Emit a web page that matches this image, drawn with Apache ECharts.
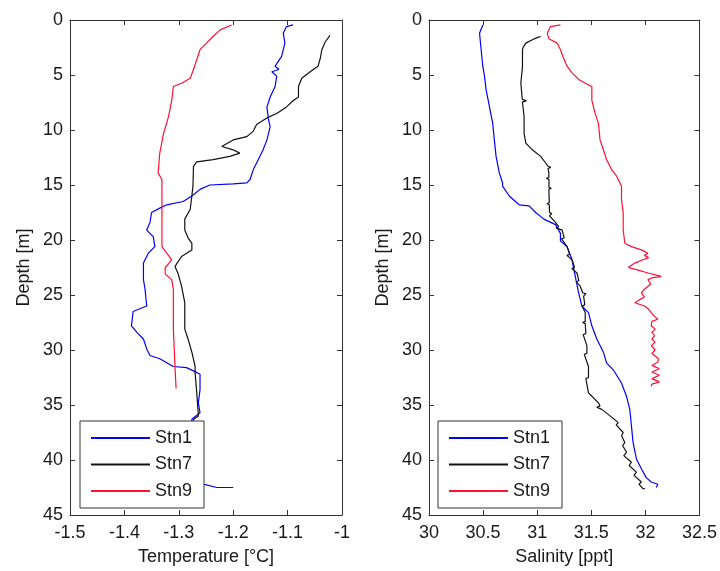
<!DOCTYPE html>
<html>
<head>
<meta charset="utf-8">
<script src="https://cdn.jsdelivr.net/npm/echarts@6/dist/echarts.min.js"></script>
<style>html,body{margin:0;padding:0;background:#fff}#c{width:720px;height:571px}</style>
</head>
<body>
<div id="c"></div>
<script>
// ---------- DATA ----------
const stations = ['Stn1', 'Stn7', 'Stn9'];
const colors = ['#0000ff', '#111111', '#ff1034'];

// Temperature panel
const tDepth1 = [0.45,0.6,1.2,2.1,3.3,4.2,4.5,4.7,5.1,6.05,7.0,7.9,9.1,9.7,10.9,11.8,12.7,13.6,14.5,14.8,14.9,15.0,15.4,16.0,16.5,16.8,17.1,17.5,18.4,19.1,19.7,20.6,21.2,22.1,23.6,24.5,26.0,26.5,27.8,28.4,29.0,29.9,30.5,30.8,31.5,31.6,31.9,32.2,33.6,34.8,35.7,36.3,38.0,40.0,42.0,42.2,42.5,42.5];
const tVal1 = [-1.090,-1.102,-1.108,-1.105,-1.111,-1.123,-1.116,-1.129,-1.120,-1.123,-1.132,-1.138,-1.135,-1.132,-1.138,-1.145,-1.154,-1.163,-1.169,-1.175,-1.200,-1.243,-1.261,-1.276,-1.292,-1.322,-1.335,-1.350,-1.353,-1.359,-1.347,-1.344,-1.356,-1.365,-1.365,-1.362,-1.359,-1.384,-1.387,-1.377,-1.365,-1.359,-1.353,-1.335,-1.310,-1.286,-1.273,-1.261,-1.261,-1.264,-1.261,-1.276,-1.275,-1.270,-1.262,-1.255,-1.230,-1.200];

const tDepth7 = [1.4,2.0,2.7,3.5,4.2,4.5,5.3,6.05,7.0,7.3,7.9,8.5,8.9,9.5,10.1,10.6,10.9,11.5,11.8,12.1,12.4,12.7,12.9,13.3,15.1,16.0,17.2,18.1,19.1,19.8,20.3,20.9,21.5,22.4,23.1,24.2,25.7,28.1,29.0,30.2,31.5,32.1,33.9,36.0,36.3,40.0,42.5];
const tVal7 = [-1.022,-1.031,-1.037,-1.040,-1.044,-1.053,-1.074,-1.080,-1.080,-1.089,-1.102,-1.120,-1.138,-1.157,-1.163,-1.175,-1.200,-1.221,-1.200,-1.188,-1.206,-1.237,-1.267,-1.273,-1.274,-1.276,-1.279,-1.289,-1.289,-1.283,-1.276,-1.276,-1.295,-1.307,-1.301,-1.295,-1.289,-1.289,-1.283,-1.276,-1.270,-1.270,-1.267,-1.264,-1.273,-1.270,-1.270];

const tDepth9 = [0.45,0.9,1.5,2.1,2.7,3.6,4.5,5.3,5.75,6.05,7.3,8.8,10.3,12.1,13.9,14.5,17.5,20.6,21.8,22.5,23.1,23.6,24.5,28.1,31.5,33.5];
const tVal9 = [-1.203,-1.224,-1.237,-1.249,-1.261,-1.267,-1.273,-1.279,-1.295,-1.310,-1.313,-1.319,-1.328,-1.335,-1.338,-1.331,-1.331,-1.331,-1.313,-1.325,-1.325,-1.313,-1.310,-1.310,-1.307,-1.305];

// Salinity panel
const sDepth1 = [0.45,1.2,2.7,4.2,5.1,6.35,7.9,9.4,10.9,12.4,13.9,14.8,15.1,16.0,16.8,16.9,17.5,18.1,18.6,19.4,20.1,20.6,21.8,23.3,24.8,26.0,26.6,27.8,29.0,30.2,31.2,31.8,33.0,34.2,35.4,36.9,38.4,39.9,40.8,41.6,42.0,42.2,42.5];
const sVal1 = [30.497,30.467,30.482,30.497,30.513,30.528,30.559,30.589,30.604,30.620,30.650,30.680,30.680,30.742,30.833,30.925,30.986,31.062,31.169,31.215,31.215,31.276,31.322,31.352,31.383,31.413,31.474,31.505,31.551,31.612,31.642,31.703,31.779,31.825,31.856,31.871,31.886,31.917,31.963,32.008,32.054,32.115,32.100];

const sDepth7 = [1.5,1.6,1.8,2.1,2.5,2.7,4.2,5.75,7.2,7.35,7.45,8.8,10.3,11.2,11.8,12.4,13.0,13.3,13.4,13.5,13.9,14.3,14.4,14.5,15.2,15.3,15.4,16.0,16.6,16.7,16.8,17.5,17.6,17.8,18.4,18.8,18.9,19.1,19.8,19.9,20.6,21.3,21.4,21.8,22.5,22.6,23.0,23.7,23.8,24.2,24.8,24.9,25.1,25.9,26.0,26.6,27.4,27.5,27.6,28.5,28.6,29.6,30.3,30.4,31.5,32.5,32.6,33.9,34.2,34.8,35.1,35.2,35.4,36.1,36.6,36.8,37.5,37.8,38.4,38.7,39.3,39.6,40.2,40.5,41.1,41.4,42.0,42.2,42.6,42.6];
const sVal7 = [31.032,31.000,30.955,30.895,30.870,30.864,30.864,30.849,30.862,30.900,30.864,30.879,30.879,30.895,30.955,31.032,31.078,31.100,31.125,31.100,31.108,31.108,31.085,31.110,31.108,31.130,31.108,31.110,31.112,31.090,31.112,31.114,31.135,31.114,31.169,31.200,31.175,31.230,31.250,31.225,31.276,31.300,31.275,31.322,31.345,31.320,31.368,31.385,31.360,31.398,31.420,31.450,31.429,31.440,31.415,31.444,31.444,31.420,31.444,31.450,31.425,31.459,31.460,31.435,31.474,31.474,31.450,31.474,31.505,31.566,31.580,31.550,31.597,31.688,31.749,31.730,31.795,31.780,31.810,31.790,31.826,31.800,31.871,31.850,31.917,31.895,31.963,31.940,31.978,31.995];

const sDepth9 = [0.45,0.6,1.2,1.7,2.1,2.7,3.5,4.2,4.8,5.4,5.9,6.05,7.3,8.5,9.4,10.9,11.8,12.7,13.6,14.2,15.1,16.3,17.5,19.1,20.3,20.6,20.9,21.2,21.4,21.6,21.8,22.1,22.5,22.7,23.0,23.3,23.45,23.6,24.0,24.2,24.5,24.8,25.2,25.4,25.7,26.0,26.3,26.6,26.9,27.2,27.4,27.8,28.1,28.4,28.7,29.0,29.3,29.6,30.0,30.3,30.5,30.8,31.1,31.4,31.7,32.0,32.3,32.6,32.9,33.1,33.3];
const sVal9 = [31.215,31.123,31.093,31.108,31.184,31.215,31.245,31.276,31.322,31.383,31.474,31.505,31.505,31.536,31.566,31.581,31.612,31.642,31.688,31.734,31.779,31.779,31.795,31.795,31.810,31.871,31.963,32.024,31.990,32.030,31.978,31.902,31.841,31.917,32.024,32.146,32.060,32.024,32.050,32.024,31.990,31.963,31.990,31.950,31.902,31.993,32.030,32.054,32.080,32.115,32.060,32.054,32.090,32.060,32.085,32.060,32.090,32.054,32.090,32.060,32.085,32.120,32.115,32.060,32.130,32.060,32.130,32.060,32.130,32.060,32.054];

// Axis ranges / tick labels
const tempRange = [-1.5, -1.0, 0.1];
const salRange = [30, 32.5, 0.5];
const depthRange = [0, 45, 5];

// ---------- CHART ----------
const FONT = "'Liberation Sans', Arial, sans-serif";
const TXT = '#1a1a1a';
const AX = '#333333';
const pair = (vals, deps) => vals.map((v, i) => [v, deps[i]]);
const fmt = v => String(parseFloat(v.toFixed(2)));

function xAx(grid, rng, pos, name) {
  return {
    type: 'value', gridIndex: grid, position: pos, min: rng[0], max: rng[1], interval: rng[2],
    axisLine: { show: true, onZero: false, lineStyle: { color: AX, width: 1 } },
    axisTick: { show: true, inside: true, length: 5, lineStyle: { color: AX } },
    axisLabel: { show: pos === 'bottom', formatter: fmt, fontSize: 18, color: TXT, fontFamily: FONT, margin: 9 },
    splitLine: { show: false },
    name: pos === 'bottom' ? name : '', nameLocation: 'middle', nameGap: 33,
    nameTextStyle: { fontSize: 18, color: TXT, fontFamily: FONT }
  };
}
function yAx(grid, pos, name) {
  return {
    type: 'value', gridIndex: grid, position: pos, inverse: true,
    min: depthRange[0], max: depthRange[1], interval: depthRange[2],
    axisLine: { show: true, onZero: false, lineStyle: { color: AX, width: 1 } },
    axisTick: { show: true, inside: true, length: 5, lineStyle: { color: AX } },
    axisLabel: { show: pos === 'left', fontSize: 18, color: TXT, fontFamily: FONT, margin: 7 },
    splitLine: { show: false },
    name: pos === 'left' ? name : '', nameLocation: 'middle', nameGap: 37, nameRotate: 90,
    nameTextStyle: { fontSize: 18, color: TXT, fontFamily: FONT }
  };
}
function ser(name, idx, data, axis) {
  return {
    name: name, type: 'line', xAxisIndex: axis, yAxisIndex: axis, data: data,
    symbol: 'none', showSymbol: false, clip: true, z: 2,
    lineStyle: { color: colors[idx], width: 1.2 }, itemStyle: { color: colors[idx] }
  };
}
function leg(left) {
  return {
    data: stations, orient: 'vertical', left: left, top: 421,
    icon: 'path://M0,0L59,0L59,2L0,2Z', symbolKeepAspect: true,
    itemWidth: 59, itemHeight: 18, itemGap: 8.5, padding: [8, 12, 8, 11],
    borderColor: AX, borderWidth: 1, backgroundColor: '#ffffff', borderRadius: 0,
    textStyle: { fontSize: 18, color: TXT, fontFamily: FONT, padding: [0, 0, 0, 0] },
    selectedMode: false, z: 10
  };
}

const chart = echarts.init(document.getElementById('c'), null, { renderer: 'canvas' });
chart.setOption({
  animation: false,
  backgroundColor: '#ffffff',
  textStyle: { fontFamily: FONT },
  grid: [
    { left: 70, top: 20, width: 272, height: 496 },
    { left: 429, top: 20, width: 273, height: 496 }
  ],
  xAxis: [
    xAx(0, tempRange, 'bottom', 'Temperature [°C]'),
    xAx(0, tempRange, 'top', ''),
    xAx(1, salRange, 'bottom', 'Salinity [ppt]'),
    xAx(1, salRange, 'top', '')
  ],
  yAxis: [
    yAx(0, 'left', 'Depth [m]'),
    yAx(0, 'right', ''),
    yAx(1, 'left', 'Depth [m]'),
    yAx(1, 'right', '')
  ],
  legend: [leg(80), leg(438)],
  series: [
    ser('Stn1', 0, pair(tVal1, tDepth1), 0),
    ser('Stn7', 1, pair(tVal7, tDepth7), 0),
    ser('Stn9', 2, pair(tVal9, tDepth9), 0),
    ser('Stn1', 0, pair(sVal1, sDepth1), 2),
    ser('Stn7', 1, pair(sVal7, sDepth7), 2),
    ser('Stn9', 2, pair(sVal9, sDepth9), 2)
  ]
});
</script>
</body>
</html>
